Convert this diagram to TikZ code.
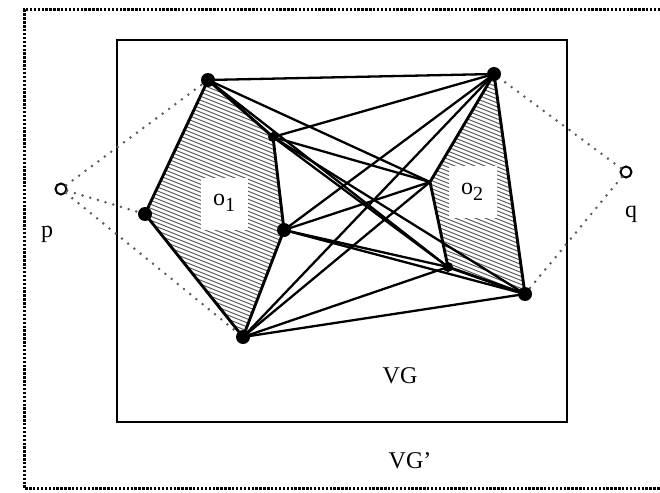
\documentclass[tikz,border=0pt]{standalone}
\usepackage{fontspec}
\setmainfont{Liberation Serif}
\begin{document}
\begin{tikzpicture}[x=1pt,y=-1pt,
  vtx/.style={circle,fill=black,inner sep=0pt,minimum size=14pt},
  svtx/.style={circle,fill=black,inner sep=0pt,minimum size=10pt},
  endpt/.style={circle,draw=black,line width=2pt,inner sep=0pt,minimum size=11pt},
  vis/.style={line width=2.3pt},
  obst/.style={line width=2.9pt,line join=round},
  sight/.style={gray!70!black,line width=2.8pt,line cap=round,dash pattern=on 0pt off 8pt},
  frame/.style={line width=3pt,dash pattern=on 2.4pt off 1.5pt},
  hatch/.style={gray!70!black,line width=1pt},
  lbl/.style={font=\fontsize{24}{26}\selectfont,inner sep=1pt}]
\useasboundingbox (0,0) rectangle (660,492);
% coordinates
\coordinate (A) at (208,80);
\coordinate (B) at (273,137);
\coordinate (C) at (284,230);
\coordinate (D) at (243,337);
\coordinate (E) at (145,214);
\coordinate (F) at (494,74);
\coordinate (G) at (430,182);
\coordinate (H) at (448,267);
\coordinate (I) at (525,294);
% outer frame (VG')
\draw[frame] (664,10) -- (24,10) -- (24,488) -- (664,488);
% inner frame (VG)
\draw[line width=2.8pt] (117,40) rectangle (567,422);
% hatching
\begin{scope}
  \clip (A) -- (B) -- (C) -- (D) -- (E) -- cycle;
  \foreach \k in {-120,-116,...,420} \draw[hatch] (100,\k) -- (620,\k+208);
\end{scope}
\begin{scope}
  \clip (F) -- (G) -- (H) -- (I) -- cycle;
  \foreach \k in {-200,-196,...,320} \draw[hatch] (100,\k) -- (620,\k+208);
\end{scope}
\fill[white] (201,178) rectangle (248,230);
\fill[white] (449,166) rectangle (497,218);
% sight lines from p and q
\node[endpt] (p) at (61,189) {};
\node[endpt] (q) at (626,172) {};
\draw[sight] (p) -- (A);
\draw[sight] (p) -- (E);
\draw[sight] (p) -- (D);
\draw[sight] (q) -- (F);
\draw[sight] (q) -- (I);
% visibility edges
\draw[vis] (A) -- (F);
\draw[vis] (A) -- (G);
\draw[vis] (A) -- (H);
\draw[vis] (B) -- (F);
\draw[vis] (B) -- (G);
\draw[vis] (B) -- (H);
\draw[vis] (B) -- (I);
\draw[vis] (C) -- (F);
\draw[vis] (C) -- (G);
\draw[vis] (C) -- (H);
\draw[vis] (C) -- (I);
\draw[vis] (D) -- (F);
\draw[vis] (D) -- (G);
\draw[vis] (D) -- (H);
\draw[vis] (D) -- (I);
% obstacles outlines
\draw[obst] (A) -- (B) -- (C) -- (D) -- (E) -- cycle;
\draw[obst] (F) -- (G) -- (H) -- (I) -- cycle;
% vertex dots
\node[vtx] at (A) {};
\node[svtx] at (B) {};
\node[vtx] at (C) {};
\node[vtx] at (D) {};
\node[vtx] at (E) {};
\node[vtx] at (F) {};
\node[vtx] at (I) {};
\node[svtx] at (H) {};
% labels
\node[lbl] (o1) at (224,203) {o\raisebox{-0.55ex}{\fontsize{20}{20}\selectfont 1}};
\node[lbl] (o2) at (472,192) {o\raisebox{-0.55ex}{\fontsize{20}{20}\selectfont 2}};
\node[lbl] (pl) at (47,234) {p};
\node[lbl] (ql) at (631,214) {q};
\node[lbl] (vg) at (400,376) {VG};
\node[lbl] (vgp) at (410,461) {VG'};
\end{tikzpicture}
\end{document}
